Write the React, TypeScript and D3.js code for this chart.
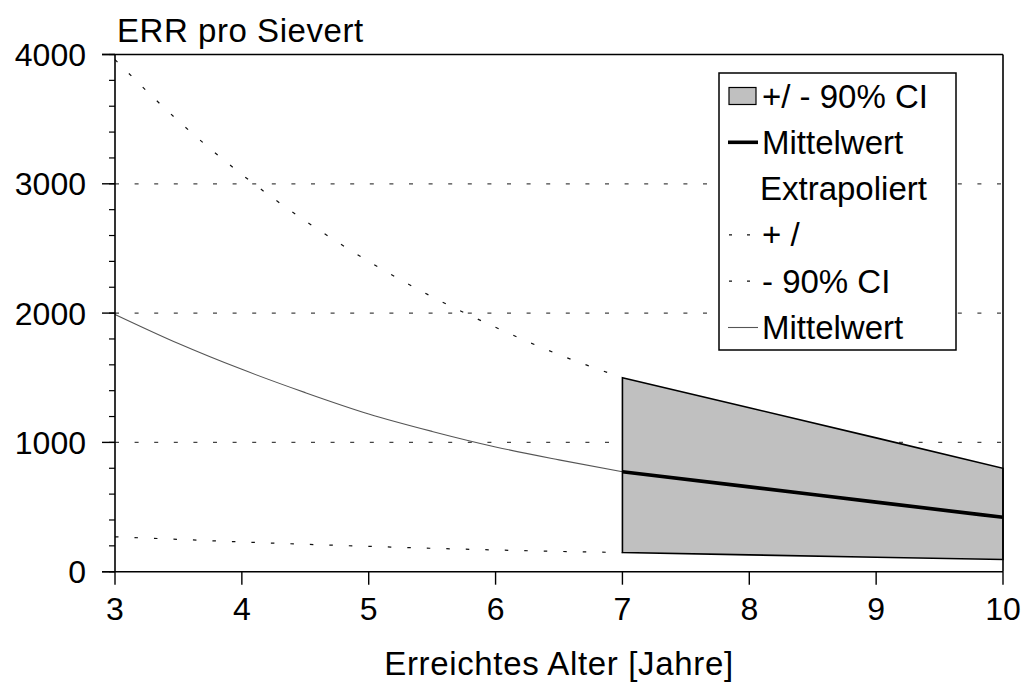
import React from "react";
import * as d3 from "d3";

// ---- data ----
const extrapAges = [3, 3.5, 4, 4.5, 5, 5.5, 6, 6.5, 7];
const extrapUpper = [3960, 3486, 3072, 2713, 2400, 2126, 1890, 1679, 1500];
const extrapMean = [1990, 1765, 1565, 1385, 1220, 1085, 965, 865, 773];
const extrapLower = [270, 250, 230, 212, 196, 181, 168, 157, 148];

const obsAges = [7, 8, 9, 10];
const obsUpper = [1500, 1268, 1035, 800];
const obsMean = [773, 656, 538, 421];
const obsLower = [148, 130, 112, 94];

const xTicks = [3, 4, 5, 6, 7, 8, 9, 10];
const yTicks = [0, 1000, 2000, 3000, 4000];
const yMinorTicks = d3.range(0, 4001, 200);

const legendLabels = [
  "+/ - 90% CI",
  "Mittelwert",
  "Extrapoliert",
  "+ /",
  "- 90% CI",
  "Mittelwert",
];

const FONT = "'Liberation Sans', Arial, Helvetica, sans-serif";

export default function App() {
  const W = 1025;
  const H = 682;
  const x = d3.scaleLinear().domain([3, 10]).range([115, 1003]);
  const y = d3.scaleLinear().domain([0, 4000]).range([571.7, 54.5]);

  const curve = d3
    .line<[number, number]>()
    .x((d) => x(d[0]))
    .y((d) => y(d[1]))
    .curve(d3.curveMonotoneX);

  const zip = (a: number[], b: number[]) => a.map((v, i) => [v, b[i]] as [number, number]);

  const area = d3
    .area<number>()
    .x((_, i) => x(obsAges[i]))
    .y0((_, i) => y(obsLower[i]))
    .y1((_, i) => y(obsUpper[i]));

  const dash = "4,15.6";
  const curveDash = "3.5,16";

  const legendX = 719;
  const legendY = 73;
  const legendW = 237;
  const legendH = 277;
  const rowC = (i: number) => 96 + i * 46.3;

  return (
    <svg
      width={W}
      height={H}
      style={{ position: "absolute", left: 0, top: 0, background: "#fff" }}
      fontFamily={FONT}
    >
      <rect x={0} y={0} width={W} height={H} fill="#fff" />

      {/* gridlines */}
      {yTicks.filter((t) => t > 0 && t < 4000).map((t) => (
        <line
          key={"g" + t}
          x1={x(3)}
          x2={x(10)}
          y1={y(t)}
          y2={y(t)}
          stroke="#444"
          strokeWidth={1.2}
          strokeDasharray={dash}
        />
      ))}

      {/* extrapolated curves */}
      <path d={curve(zip(extrapAges, extrapUpper)) || ""} fill="none" stroke="#111" strokeWidth={1.2} strokeDasharray={curveDash} />
      <path d={curve(zip(extrapAges, extrapLower)) || ""} fill="none" stroke="#111" strokeWidth={1.2} strokeDasharray={curveDash} />
      <path d={curve(zip(extrapAges, extrapMean)) || ""} fill="none" stroke="#555" strokeWidth={1.1} />

      {/* CI band */}
      <path d={area(obsAges) || ""} fill="#c0c0c0" stroke="#000" strokeWidth={1.6} strokeLinejoin="miter" />
      <path d={curve(zip(obsAges, obsMean)) || ""} fill="none" stroke="#000" strokeWidth={3.6} />

      {/* frame */}
      <line x1={102} x2={x(10)} y1={y(4000)} y2={y(4000)} stroke="#000" strokeWidth={1.6} />
      <line x1={x(10)} x2={x(10)} y1={y(4000)} y2={y(0)} stroke="#000" strokeWidth={1.6} />
      <line x1={x(3)} x2={x(3)} y1={y(4000)} y2={y(0)} stroke="#000" strokeWidth={1.6} />
      <line x1={102} x2={x(10)} y1={y(0)} y2={y(0)} stroke="#000" strokeWidth={1.6} />

      {/* y ticks */}
      {yMinorTicks.map((t) => (
        <line key={"m" + t} x1={109} x2={x(3)} y1={y(t)} y2={y(t)} stroke="#000" strokeWidth={1.2} />
      ))}
      {yTicks.map((t) => (
        <g key={"y" + t}>
          <line x1={102} x2={x(3)} y1={y(t)} y2={y(t)} stroke="#000" strokeWidth={1.4} />
          <text x={86} y={y(t) + 11.5} fontSize={32} textAnchor="end" fill="#000">
            {t}
          </text>
        </g>
      ))}

      {/* x ticks */}
      {xTicks.map((t) => (
        <g key={"x" + t}>
          <line x1={x(t)} x2={x(t)} y1={y(0)} y2={y(0) + 13} stroke="#000" strokeWidth={1.4} />
          <text x={x(t)} y={620} fontSize={32} textAnchor="middle" fill="#000">
            {t}
          </text>
        </g>
      ))}

      {/* titles */}
      <text x={117} y={42} fontSize={33} letterSpacing={0.55} fill="#000">
        ERR pro Sievert
      </text>
      <text x={559} y={675} fontSize={33} letterSpacing={0.65} textAnchor="middle" fill="#000">
        Erreichtes Alter [Jahre]
      </text>

      {/* legend */}
      <rect x={legendX} y={legendY} width={legendW} height={legendH} fill="#fff" stroke="#000" strokeWidth={1.5} />
      <rect x={729} y={rowC(0) - 8.5} width={27} height={17} fill="#c0c0c0" stroke="#000" strokeWidth={1.2} />
      <line x1={728} x2={758} y1={rowC(1)} y2={rowC(1)} stroke="#000" strokeWidth={3.6} />
      <line x1={729} x2={757} y1={rowC(3)} y2={rowC(3)} stroke="#111" strokeWidth={1.2} strokeDasharray="3,15" />
      <line x1={729} x2={757} y1={rowC(4)} y2={rowC(4)} stroke="#111" strokeWidth={1.2} strokeDasharray="3,15" />
      <line x1={728} x2={758} y1={rowC(5)} y2={rowC(5)} stroke="#555" strokeWidth={1.1} />
      {legendLabels.map((l, i) => (
        <text key={"l" + i} x={i === 2 ? 760 : 762} y={rowC(i) + 11.5} fontSize={33} fill="#000">
          {l}
        </text>
      ))}
    </svg>
  );
}
